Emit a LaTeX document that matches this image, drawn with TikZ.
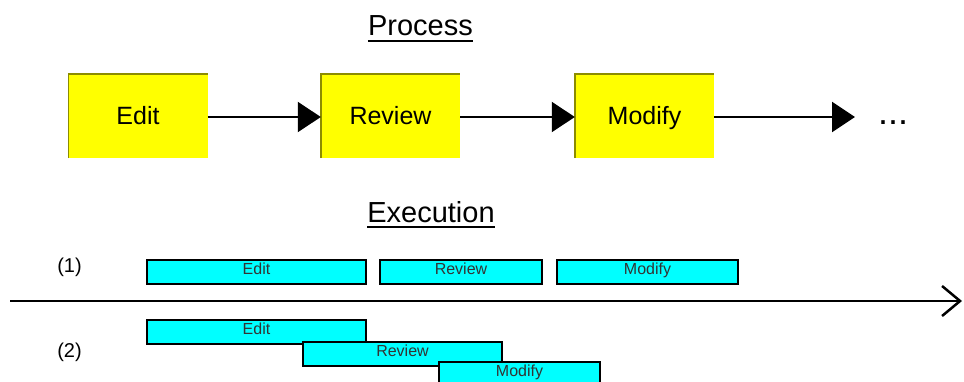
\documentclass[tikz,border=0pt]{standalone}
\usepackage{fontspec}
\setmainfont{Liberation Sans}
\usetikzlibrary{arrows.meta}

\definecolor{stepfill}{RGB}{255,255,0}
\definecolor{stepedge}{RGB}{140,140,0}
\definecolor{barfill}{RGB}{0,255,255}

\begin{document}
\begin{tikzpicture}[x=1pt,y=1pt,
    stepbox/.style={fill=stepfill,minimum width=139pt,minimum height=84pt,inner sep=0pt,
      text height=18pt,text depth=0pt,font=\fontsize{25}{30}\selectfont},
    title/.style={inner sep=0pt,anchor=base,font=\fontsize{29}{34}\selectfont},
    flow/.style={line width=2.2pt,-{Triangle[length=23pt,width=30pt]}},
    bar/.style={draw,line width=2.4pt,fill=barfill,minimum height=24pt,inner sep=0pt,
      text height=12pt,text depth=7pt,text=black!80,font=\fontsize{16}{19}\selectfont},
    rowlabel/.style={font=\fontsize{20}{24}\selectfont}]
      \useasboundingbox (0,0) rectangle (964,381);
      \clip (0,0) rectangle (964,381);
      % process
      \node[title] (proc) at (420.5,345) {Process};
      \draw[line width=2.5pt] ([yshift=-5pt]proc.base west) -- ([yshift=-5pt]proc.base east);
      \node[stepbox] (edit) at (138,265) {Edit};
      \node[stepbox] (review) at (390.5,265) {Review};
      \node[stepbox] (modify) at (644.5,265) {Modify};
      \foreach \s in {edit,review,modify}
        \draw[stepedge,line width=1.5pt] (\s.south west) -- (\s.north west) -- (\s.north east);
      \node[font=\fontsize{36}{40}\selectfont,anchor=base] (more) at (893,256) {...};
      \coordinate (next) at (855,264);
      \draw[flow] (edit.east |- 0,264) -- (review.west |- 0,264);
      \draw[flow] (review.east |- 0,264) -- (modify.west |- 0,264);
      \draw[flow] (modify.east |- 0,264) -- (next);
      % execution
      \node[title] (exec) at (431,159) {Execution};
      \draw[line width=2.5pt] ([yshift=-5pt]exec.base west) -- ([yshift=-5pt]exec.base east);
      \node[rowlabel] (one) at (69.5,114) {(1)};
      \node[rowlabel] (two) at (69.5,29) {(2)};
      \node[bar,minimum width=219pt] (editA) at (256.5,109) {Edit};
      \node[bar,minimum width=162pt] (reviewA) at (461,109) {Review};
      \node[bar,minimum width=181pt] (modifyA) at (647.5,109) {Modify};
      \node[bar,minimum width=219pt] (editB) at (256.5,49) {Edit};
      \node[bar,minimum width=199pt] (reviewB) at (402.5,27) {Review};
      \node[bar,minimum width=161pt] (modifyB) at (519.5,7) {Modify};
      \coordinate (t0) at (10,80);
      \coordinate (t1) at (962,80);
      \draw[line width=2.5pt,-{Straight Barb[length=18pt,width=30pt,line width=2.5pt]}] (t0) -- (t1);
    \end{tikzpicture}
\end{document}
